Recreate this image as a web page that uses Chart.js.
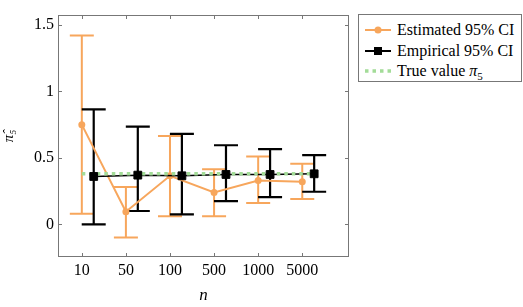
<!DOCTYPE html>
<html>
<head>
<meta charset="utf-8">
<script src="https://cdn.jsdelivr.net/npm/chart.js@4/dist/chart.umd.min.js"></script>
<style>
  html, body { margin: 0; padding: 0; background: #fff; }
  body { font-family: 'Liberation Serif', 'Times New Roman', Times, 'DejaVu Serif', serif; font-size: 16px; }
  .wrap { position: relative; width: 523px; height: 307px; }
  .legend {
    position: absolute; left: 358px; top: 14px; width: 164px; height: 68px;
    border: 1px solid #777; background: #fff; box-sizing: border-box; color: #000;
  }
  .row { position: absolute; left: 6px; height: 20px; display: flex; align-items: center; white-space: nowrap; }
  .row svg { margin-right: 6px; }
  .sub { font-size: 11px; position: relative; top: 4px; }
</style>
</head>
<body>
<div class="wrap">
  <canvas id="chart" width="523" height="307"></canvas>
  <div class="legend">
    <div class="row" style="top:5px">
      <svg width="26" height="10"><line x1="0" y1="5" x2="26" y2="5" stroke="#F7A65C" stroke-width="2"/><circle cx="13" cy="5" r="3.5" fill="#F7A65C"/></svg>
      <span>Estimated 95% CI</span>
    </div>
    <div class="row" style="top:26px">
      <svg width="26" height="10"><line x1="0" y1="5" x2="26" y2="5" stroke="#000" stroke-width="2"/><rect x="9" y="1" width="8" height="8" fill="#000"/></svg>
      <span>Empirical 95% CI</span>
    </div>
    <div class="row" style="top:46px">
      <svg width="26" height="10"><line x1="0" y1="5" x2="26" y2="5" stroke="#A3DC98" stroke-width="3.5" stroke-dasharray="3.5,4"/></svg>
      <span>True value <i>π</i><span class="sub">5</span></span>
    </div>
  </div>
</div>
<script>
// categories (sample size n)
const categories = ['10', '50', '100', '500', '1000', '5000'];

// Estimated 95% CI
const estMean = [0.75, 0.095, 0.365, 0.24, 0.33, 0.32];
const estLow  = [0.08, -0.10, 0.06, 0.06, 0.16, 0.19];
const estHigh = [1.42, 0.28, 0.665, 0.415, 0.51, 0.455];

// Empirical 95% CI
const empMean = [0.36, 0.37, 0.365, 0.375, 0.375, 0.38];
const empLow  = [0.0, 0.1, 0.075, 0.175, 0.205, 0.245];
const empHigh = [0.865, 0.735, 0.68, 0.595, 0.565, 0.52];

// true value pi_5
const trueValue = 0.38;

const yTicks = [0, 0.5, 1, 1.5];

// layout constants
const empShift = 0.27;
const trueSpan = [0, 5.4];
const ORANGE = '#F7A65C';
const GREEN = '#A3DC98';
const FRAME = '#777';
const SERIF = "'Liberation Serif', 'Times New Roman', Times, 'DejaVu Serif', serif";

Chart.defaults.font.family = SERIF;
Chart.defaults.font.size = 16;
Chart.defaults.color = '#000';

const estPoints = estMean.map((v, i) => ({ x: i, y: v }));
const empPoints = empMean.map((v, i) => ({ x: i + empShift, y: v }));
const truePoints = trueSpan.map(x => ({ x: x, y: trueValue }));

// error bars + frame with inside ticks
const errorBars = {
  id: 'errorBars',
  beforeDatasetsDraw(chart) {
    const { ctx, scales: { x, y } } = chart;
    const cap = 12;
    const drawSet = (low, high, shift, color, width) => {
      ctx.save();
      ctx.strokeStyle = color;
      ctx.lineWidth = width;
      low.forEach((lo, i) => {
        const px = x.getPixelForValue(i + shift);
        const y1 = y.getPixelForValue(lo);
        const y2 = y.getPixelForValue(high[i]);
        ctx.beginPath();
        ctx.moveTo(px, y1); ctx.lineTo(px, y2);
        ctx.moveTo(px - cap, y1); ctx.lineTo(px + cap, y1);
        ctx.moveTo(px - cap, y2); ctx.lineTo(px + cap, y2);
        ctx.stroke();
      });
      ctx.restore();
    };
    drawSet(estLow, estHigh, 0, ORANGE, 2);
    drawSet(empLow, empHigh, empShift, '#000', 2.2);
  },
  afterDraw(chart) {
    const { ctx, chartArea: a, scales: { x, y } } = chart;
    ctx.save();
    ctx.strokeStyle = FRAME;
    ctx.lineWidth = 1;
    ctx.strokeRect(a.left + 0.5, a.top + 0.5, a.right - a.left - 1, a.bottom - a.top - 1);
    ctx.beginPath();
    categories.forEach((c, i) => {
      const px = Math.round(x.getPixelForValue(i)) + 0.5;
      ctx.moveTo(px, a.top); ctx.lineTo(px, a.top + 4);
      ctx.moveTo(px, a.bottom); ctx.lineTo(px, a.bottom - 4);
    });
    yTicks.forEach(v => {
      const py = Math.round(y.getPixelForValue(v)) + 0.5;
      ctx.moveTo(a.left, py); ctx.lineTo(a.left + 4, py);
      ctx.moveTo(a.right, py); ctx.lineTo(a.right - 4, py);
    });
    ctx.stroke();
    ctx.restore();
  }
};

function drawChart() {
  new Chart(document.getElementById('chart'), {
    type: 'scatter',
    data: {
      datasets: [
        {
          label: 'Estimated 95% CI',
          data: estPoints,
          showLine: true,
          borderColor: ORANGE,
          backgroundColor: ORANGE,
          borderWidth: 2,
          pointRadius: 3.5,
          pointBorderWidth: 0,
          order: 4
        },
        {
          label: 'Empirical line',
          data: empPoints,
          showLine: true,
          borderColor: '#000',
          borderWidth: 1.5,
          pointRadius: 0,
          order: 3
        },
        {
          label: 'True value',
          data: truePoints,
          showLine: true,
          borderColor: GREEN,
          borderWidth: 3.5,
          borderDash: [3.5, 4],
          pointRadius: 0,
          order: 2
        },
        {
          label: 'Empirical 95% CI',
          data: empPoints,
          showLine: false,
          pointStyle: 'rect',
          backgroundColor: '#000',
          borderColor: '#000',
          pointRadius: 5.5,
          pointBorderWidth: 1,
          order: 1
        }
      ]
    },
    options: {
      responsive: false,
      animation: false,
      layout: { padding: { left: 0, top: 15, right: 174, bottom: 0 } },
      plugins: {
        legend: { display: false },
        tooltip: { enabled: false }
      },
      scales: {
        x: {
          type: 'linear',
          min: -0.54,
          max: 6.06,
          afterBuildTicks: s => { s.ticks = categories.map((c, i) => ({ value: i })); },
          afterFit: s => { s.height = 50; },
          grid: { display: false, drawTicks: false },
          border: { display: false },
          ticks: {
            padding: 4,
            font: { family: SERIF, size: 16 },
            maxRotation: 0,
            callback: v => categories[v]
          },
          title: {
            display: true,
            text: 'n',
            padding: { top: 0, bottom: 1 },
            font: { family: SERIF, size: 17, style: 'italic' }
          }
        },
        y: {
          min: -0.246,
          max: 1.575,
          afterBuildTicks: s => { s.ticks = yTicks.map(v => ({ value: v })); },
          afterFit: s => { s.width = 58; },
          grid: { display: false, drawTicks: false },
          border: { display: false },
          ticks: {
            padding: 4,
            font: { family: SERIF, size: 16 },
            callback: v => String(v)
          },
          title: {
            display: true,
            text: 'π\u0302\u2085',
            padding: { top: 0, bottom: 0 },
            font: { family: SERIF, size: 15, style: 'italic' }
          }
        }
      }
    },
    plugins: [errorBars]
  });
}

// make sure the serif face is ready before the canvas text is drawn
document.fonts.load("16px 'Liberation Serif'").then(drawChart, drawChart);
</script>
</body>
</html>
